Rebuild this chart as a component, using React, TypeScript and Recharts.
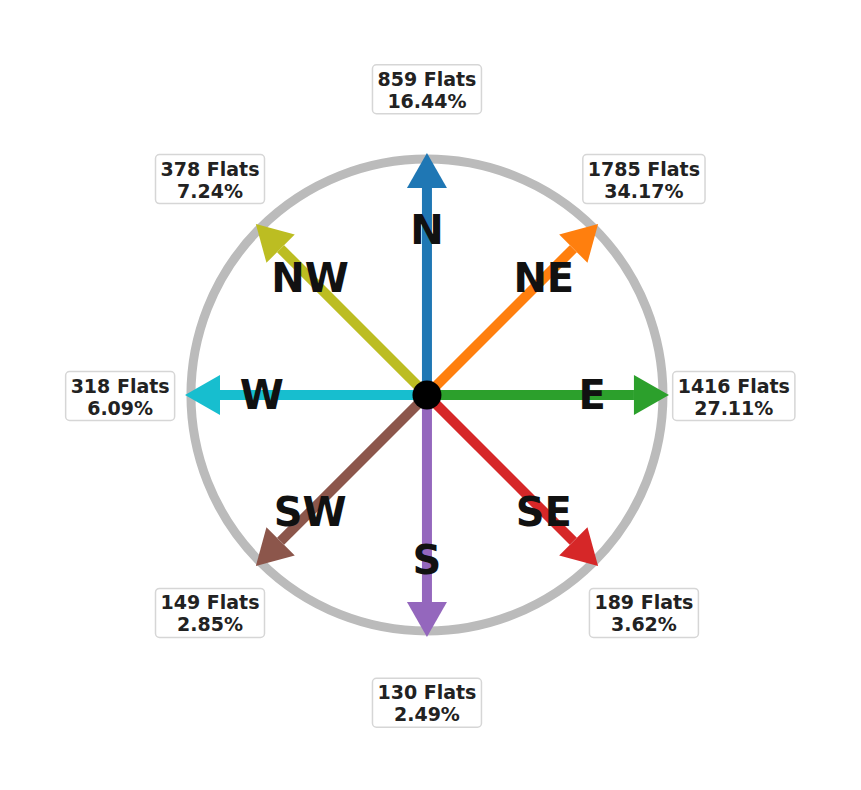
import React from "react";
import { ScatterChart, Scatter, XAxis, YAxis } from "recharts";

// compass directions, counter-clockwise angle from east (deg)
const DIRECTIONS = ["N", "NE", "E", "SE", "S", "SW", "W", "NW"];
const ANGLES = [90, 45, 0, -45, -90, -135, 180, 135];
const COUNTS = [859, 1785, 1416, 189, 130, 149, 318, 378];
const PERCENTS = [16.44, 34.17, 27.11, 3.62, 2.49, 2.85, 6.09, 7.24];
const COLORS = ["#1f77b4", "#ff7f0e", "#2ca02c", "#d62728", "#9467bd", "#8c564b", "#17becf", "#bcbd22"];

// radii, in units of the compass circle
const SHAFT_END = 0.877;
const LETTER_R = 0.70;
const LABEL_R = 1.3;

const W = 861;
const H = 790;
const FONT = "'DejaVu Sans', sans-serif";

const rad = (a: number) => (a * Math.PI) / 180;

const letters = DIRECTIONS.map((d, i) => ({
    x: LETTER_R * Math.cos(rad(ANGLES[i])), y: LETTER_R * Math.sin(rad(ANGLES[i])), name: d,
}));
const labels = DIRECTIONS.map((d, i) => ({
    x: LABEL_R * Math.cos(rad(ANGLES[i])), y: LABEL_R * Math.sin(rad(ANGLES[i])),
    l1: `${COUNTS[i]} Flats`, l2: `${PERCENTS[i].toFixed(2)}%`,
}));

// DejaVu Sans Bold advance widths (em), for sizing the label boxes
const CW: Record<string, number> = { " ": 0.348, ".": 0.38, "%": 1.002, F: 0.683, l: 0.343, a: 0.675, t: 0.478, s: 0.595 };
const textW = (s: string, fs: number) => s.split("").reduce((w, c) => w + (CW[c] ?? 0.696), 0) * fs;

const ArrowHead = (props: any) => {
    const { cx, cy, payload, fill } = props;
    if (!payload.head) return <g />;
    const a = rad(payload.angle);
    const dx = Math.cos(a), dy = -Math.sin(a);
    const len = 35, half = 20;
    const tip = [cx + dx * len, cy + dy * len];
    const p1 = [cx - dy * half, cy + dx * half];
    const p2 = [cx + dy * half, cy - dx * half];
    return <polygon points={`${p1.join(",")} ${tip.join(",")} ${p2.join(",")}`} fill={fill} />;
};

const Letter = (props: any) => (
    <text x={props.cx} y={props.cy} textAnchor="middle" dominantBaseline="central"
          fontFamily={FONT} fontWeight="bold" fontSize={40} fill="#111111">
        {props.payload.name}
    </text>
);

const LabelBox = (props: any) => {
    const { cx, cy, payload } = props;
    const fs = 19;
    const w = Math.max(textW(payload.l1, fs), textW(payload.l2, fs)) + 10;
    const h = 49;
    const y0 = cy + 1;
    return (
        <g>
            <rect x={cx - w / 2} y={y0 - h / 2} width={w} height={h} rx={4} fill="#ffffff" stroke="#d6d6d6" strokeWidth={1.5} />
            <text x={cx} y={y0 - 10.5} textAnchor="middle" dominantBaseline="central"
                  fontFamily={FONT} fontWeight="bold" fontSize={fs} fill="#222222">{payload.l1}</text>
            <text x={cx} y={y0 + 11.5} textAnchor="middle" dominantBaseline="central"
                  fontFamily={FONT} fontWeight="bold" fontSize={fs} fill="#222222">{payload.l2}</text>
        </g>
    );
};

export default function App() {
    return (
        <div style={{ position: "absolute", left: 0, top: 0, width: W, height: H, background: "#fff" }}>
            <ScatterChart width={W} height={H} margin={{ top: 0, right: 0, bottom: 0, left: 0 }}>
                <XAxis type="number" dataKey="x" domain={[-1.809, 1.839]} hide />
                <YAxis type="number" dataKey="y" domain={[-1.674, 1.674]} hide />
                <Scatter data={[{ x: 0, y: 0 }]} isAnimationActive={false}
                         shape={(p: any) => <circle cx={p.cx} cy={p.cy} r={236} fill="none" stroke="#bbbbbb" strokeWidth={9} />} />
                {DIRECTIONS.map((d, i) => (
                    <Scatter key={d} isAnimationActive={false} fill={COLORS[i]}
                             data={[
                                 { x: 0, y: 0, angle: ANGLES[i], head: false },
                                 { x: SHAFT_END * Math.cos(rad(ANGLES[i])), y: SHAFT_END * Math.sin(rad(ANGLES[i])), angle: ANGLES[i], head: true },
                             ]}
                             line={{ stroke: COLORS[i], strokeWidth: 10 }} lineType="joint" lineJointType="linear"
                             shape={ArrowHead} />
                ))}
                <Scatter data={[{ x: 0, y: 0 }]} isAnimationActive={false}
                         shape={(p: any) => <circle cx={p.cx} cy={p.cy} r={14.5} fill="#000000" />} />
                <Scatter data={letters} isAnimationActive={false} shape={Letter} />
                <Scatter data={labels} isAnimationActive={false} shape={LabelBox} />
            </ScatterChart>
        </div>
    );
}
